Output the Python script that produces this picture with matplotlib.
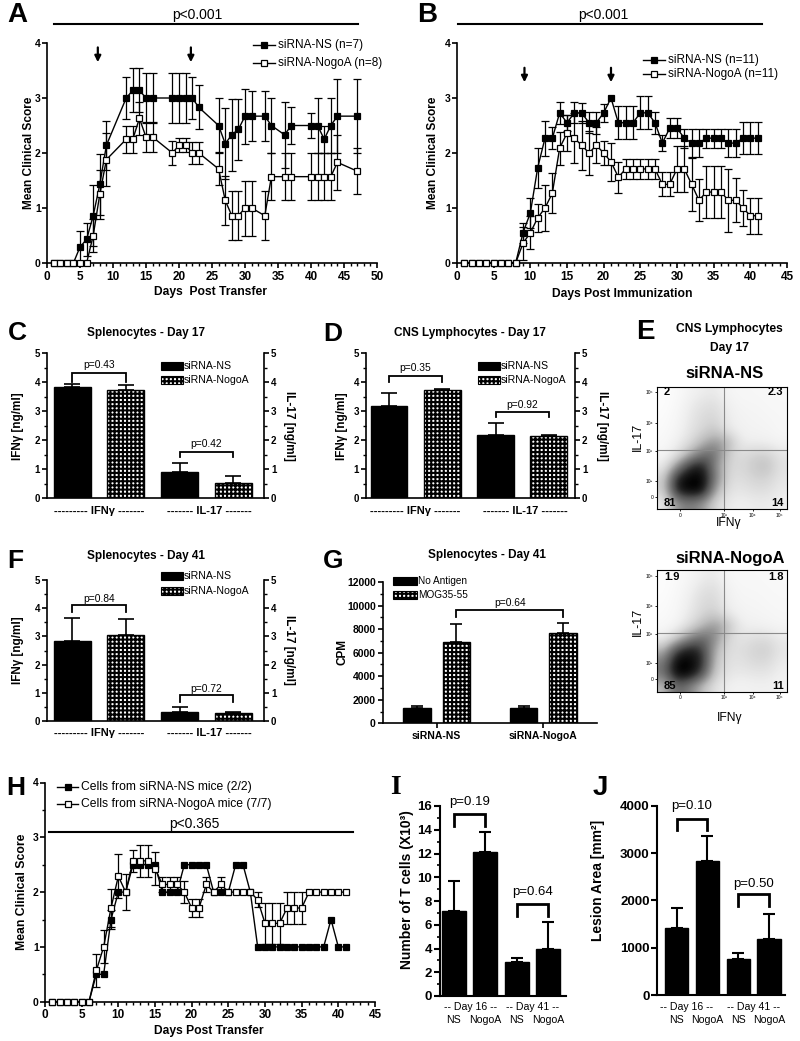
import matplotlib
matplotlib.use('Agg')
import matplotlib.pyplot as plt
import numpy as np
from matplotlib.lines import Line2D
from matplotlib.patches import Rectangle
from matplotlib.ticker import MultipleLocator

plt.rcParams['font.family'] = ['Liberation Sans', 'DejaVu Sans']
plt.rcParams['hatch.linewidth'] = 1.5
plt.rcParams['axes.linewidth'] = 1.2

# ---------------- data ----------------
# Panel A: passive transfer EAE
a_days = [1,2,3,4,5,6,7,8,9,12,13,14,15,16,19,20,21,22,23,26,27,28,29,30,31,33,34,36,37,40,41,42,43,44,47]
a_ns = [0,0,0,0,0.29,0.43,0.86,1.43,2.14,3.0,3.14,3.14,3.0,3.0,3.0,3.0,3.0,3.0,2.83,2.5,2.17,2.33,2.43,2.67,2.67,2.67,2.5,2.33,2.5,2.5,2.5,2.25,2.5,2.67,2.67]
a_ns_err = [0,0,0,0,0.3,0.3,0.55,0.55,0.45,0.38,0.4,0.4,0.46,0.46,0.45,0.45,0.45,0.38,0.4,0.5,0.65,0.65,0.55,0.5,0.45,0.45,0.5,0.6,0.33,0.22,0.5,0.25,0.5,0.67,0.67]
a_nogo = [0,0,0,0,0,0,0.5,1.25,1.88,2.25,2.25,2.63,2.29,2.29,2.0,2.14,2.14,2.0,2.0,1.71,1.14,0.86,0.86,1.0,1.0,0.86,1.57,1.57,1.57,1.57,1.57,1.57,1.57,1.83,1.67]
a_nogo_err = [0,0,0,0,0,0,0.3,0.45,0.48,0.25,0.25,0.3,0.28,0.28,0.22,0.13,0.13,0.2,0.2,0.3,0.45,0.45,0.45,0.5,0.5,0.45,0.43,0.43,0.43,0.43,0.43,0.43,0.43,0.5,0.42]
a_arrows = [7.7, 21.8]

# Panel B: active EAE
b_days = list(range(1, 42))
b_ns = [0,0,0,0,0,0,0,0,0.55,0.91,1.73,2.27,2.27,2.73,2.55,2.73,2.73,2.55,2.55,2.73,3.0,2.55,2.55,2.55,2.73,2.73,2.55,2.18,2.45,2.45,2.27,2.18,2.18,2.27,2.27,2.27,2.18,2.18,2.27,2.27,2.27]
b_ns_err = [0,0,0,0,0,0,0,0,0.18,0.27,0.37,0.32,0.2,0.2,0.15,0.19,0.18,0.19,0.2,0.17,0,0.3,0.3,0.3,0.3,0.3,0.2,0.14,0.18,0.18,0.17,0.25,0.25,0.17,0.17,0.17,0.25,0.25,0.29,0.29,0.29]
b_nogo = [0,0,0,0,0,0,0,0,0.36,0.55,0.82,1.0,1.27,2.09,2.36,2.27,2.14,2.0,2.14,2.0,1.84,1.56,1.71,1.71,1.71,1.71,1.71,1.43,1.43,1.71,1.71,1.43,1.14,1.29,1.29,1.29,1.14,1.14,1.0,0.86,0.86]
b_nogo_err = [0,0,0,0,0,0,0,0,0.3,0.3,0.25,0.42,0.36,0.3,0.33,0.45,0.45,0.4,0.33,0.22,0.35,0.28,0.18,0.18,0.18,0.18,0.18,0.22,0.22,0.42,0.42,0.48,0.38,0.47,0.47,0.47,0.57,0.4,0.33,0.33,0.33]
b_arrows = [9.2, 21.0]

# Panels C, D, F: cytokines [IFNg, IL-17]
c_ns = [3.85, 0.92];  c_ns_err = [0.08, 0.31]
c_nogo = [3.75, 0.54]; c_nogo_err = [0.14, 0.23]
d_ns = [3.2, 2.2];    d_ns_err = [0.42, 0.38]
d_nogo = [3.72, 2.15]; d_nogo_err = [0.04, 0.04]
f_ns = [2.85, 0.33];  f_ns_err = [0.8, 0.15]
f_nogo = [3.05, 0.27]; f_nogo_err = [0.57, 0.06]

# Panel G: proliferation
g_groups = ['siRNA-NS', 'siRNA-NogoA']
g_noag = [1300, 1300]; g_noag_err = [180, 180]
g_mog = [6900, 7700];  g_mog_err = [1500, 800]

# Panel E: flow cytometry density (rows top->bottom, cols left->right)
e_ns_density = [
    [0.02,0.04,0.10,0.14,0.16,0.08,0.07,0.07,0.06,0.05],
    [0.02,0.05,0.14,0.20,0.22,0.12,0.08,0.08,0.07,0.06],
    [0.03,0.07,0.16,0.24,0.26,0.14,0.10,0.09,0.08,0.07],
    [0.04,0.08,0.18,0.26,0.32,0.16,0.11,0.10,0.09,0.07],
    [0.05,0.12,0.22,0.38,0.50,0.40,0.14,0.13,0.12,0.09],
    [0.08,0.18,0.40,0.62,0.65,0.30,0.22,0.28,0.28,0.18],
    [0.15,0.50,0.85,0.92,0.55,0.26,0.25,0.32,0.36,0.20],
    [0.28,0.90,1.00,1.00,0.60,0.24,0.22,0.28,0.28,0.18],
    [0.28,0.92,1.00,1.00,0.45,0.20,0.18,0.22,0.22,0.15],
    [0.15,0.50,0.60,0.50,0.26,0.15,0.12,0.15,0.15,0.12]]
e_nogo_density = [
    [0.02,0.04,0.08,0.14,0.16,0.07,0.06,0.06,0.05,0.05],
    [0.02,0.05,0.11,0.20,0.22,0.10,0.07,0.07,0.06,0.05],
    [0.03,0.06,0.14,0.24,0.25,0.12,0.08,0.08,0.07,0.06],
    [0.04,0.07,0.16,0.26,0.30,0.15,0.10,0.09,0.08,0.07],
    [0.05,0.10,0.22,0.38,0.50,0.36,0.13,0.12,0.10,0.08],
    [0.12,0.28,0.52,0.66,0.55,0.26,0.18,0.22,0.22,0.15],
    [0.38,0.78,0.92,0.82,0.42,0.22,0.22,0.28,0.30,0.18],
    [0.58,1.00,1.00,0.88,0.36,0.20,0.20,0.25,0.25,0.15],
    [0.62,1.00,1.00,0.78,0.30,0.18,0.16,0.18,0.18,0.12],
    [0.36,0.68,0.58,0.36,0.20,0.12,0.10,0.12,0.12,0.10]]
e_ns_quads = ['2', '2.3', '81', '14']
e_nogo_quads = ['1.9', '1.8', '85', '11']

# Panel H: transfer of cells
h_days = list(range(1, 42))
h_ns = [0,0,0,0,0,0,0.5,0.5,1.5,2.0,2.0,2.5,2.5,2.5,2.5,2.0,2.0,2.0,2.5,2.5,2.5,2.5,2.0,2.0,2.0,2.5,2.5,2.0,1.0,1.0,1.0,1.0,1.0,1.0,1.0,1.0,1.0,1.0,1.5,1.0,1.0]
h_ns_err = [0,0,0,0,0,0,0,0,0.17,0,0.33,0,0,0,0,0,0,0,0,0,0,0,0,0,0,0,0,0,0,0,0,0,0,0,0,0,0,0,0,0,0]
h_nogo = [0,0,0,0,0,0,0.57,1.0,1.71,2.29,2.0,2.57,2.57,2.57,2.43,2.14,2.14,2.14,2.0,1.71,1.71,2.14,2.0,2.14,2.0,2.0,2.0,2.0,1.86,1.43,1.43,1.43,1.71,1.71,1.71,2.0,2.0,2.0,2.0,2.0,2.0]
h_nogo_err = [0,0,0,0,0,0,0.3,0.3,0.35,0.4,0,0.2,0.29,0.29,0.3,0.14,0.14,0.14,0.2,0.17,0.17,0.14,0,0.14,0,0,0,0,0.14,0.37,0.37,0.37,0.29,0.29,0.29,0,0,0,0,0,0]

# Panels I, J
ij_labels = ['NS', 'NogoA', 'NS', 'NogoA']
ij_days = ['-- Day 16 --', '-- Day 41 --']
i_vals = [7.2, 12.1, 2.9, 4.0];  i_err = [2.5, 1.7, 0.3, 2.2]
j_vals = [1420, 2830, 770, 1180]; j_err = [420, 520, 120, 540]

# ---------------- helpers ----------------
W, H = 800, 1041
fig = plt.figure(figsize=(W/100, H/100), dpi=100)

def axpx(l, t, r, b):
    return fig.add_axes([l/W, 1-b/H, (r-l)/W, (b-t)/H])

def ftext(x, y, s, **kw):
    kw.setdefault('ha', 'center'); kw.setdefault('va', 'center')
    return fig.text(x/W, 1-y/H, s, **kw)

def bold_ticks(ax):
    for lab in ax.get_xticklabels() + ax.get_yticklabels():
        lab.set_fontweight('bold')

def leg_line(x0, x1, y, face, label, fs):
    fig.add_artist(Line2D([x0/W, x1/W], [1-y/H, 1-y/H], color='k', lw=1.0, transform=fig.transFigure))
    fig.add_artist(Line2D([(x0+x1)/2/W], [1-y/H], marker='s', ms=4.3, mfc=face, mec='k', mew=0.9,
                          transform=fig.transFigure))
    ftext(x1+3, y, label, fontsize=fs, ha='left')

def leg_patch(x0, x1, y, hatch, label, fs, h=8):
    if hatch:
        r = Rectangle((x0/W, 1-(y+h/2)/H), (x1-x0)/W, h/H, transform=fig.transFigure,
                      facecolor='white', edgecolor='k', hatch='++++', lw=0.8)
    else:
        r = Rectangle((x0/W, 1-(y+h/2)/H), (x1-x0)/W, h/H, transform=fig.transFigure,
                      facecolor='k', edgecolor='k', lw=0.8)
    fig.add_artist(r)
    ftext(x1+1, y, label, fontsize=fs, ha='left')

def bracket(ax, x0, x1, ytop, yleg, ytext, txt, fs, lw=1.3):
    ax.plot([x0, x0, x1, x1], [yleg, ytop, ytop, yleg], color='k', lw=lw, clip_on=False,
            solid_joinstyle='miter')
    ax.text((x0+x1)/2, ytext, txt, ha='center', va='center', fontsize=fs, clip_on=False)

def clinical(ax, days, ns, ns_err, nogo, nogo_err, xmax):
    for vals, errs, face in [(ns, ns_err, 'k'), (nogo, nogo_err, 'white')]:
        d = np.array(days); v = np.array(vals); e = np.array(errs)
        m = e > 0
        ax.errorbar(d[m], v[m], yerr=e[m], fmt='none', ecolor='k', elinewidth=0.9,
                    capsize=3.0, capthick=0.9, zorder=2)
        ax.plot(d, v, '-', color='k', lw=1.0, marker='s', ms=4.3, mfc=face, mec='k',
                mew=0.9, clip_on=False, zorder=3)
    ax.set_xlim(0, xmax); ax.set_ylim(0, 4)
    ax.spines[['top', 'right']].set_visible(False)
    ax.xaxis.set_major_locator(MultipleLocator(5))
    ax.xaxis.set_minor_locator(MultipleLocator(1))
    ax.set_yticks([0, 1, 2, 3, 4])
    ax.tick_params(axis='both', which='major', direction='out', length=3.5, width=1.2, pad=2)
    ax.tick_params(axis='y', which='major', pad=1)
    ax.tick_params(axis='x', which='major', labelsize=8.5)
    ax.tick_params(axis='y', which='major', labelsize=7.5)
    ax.tick_params(axis='x', which='minor', direction='out', length=2, width=1.0)
    bold_ticks(ax)

def cyto(ax, ns, ns_err, nogo, nogo_err, xlim):
    pos_ns = [0, 2]; pos_nogo = [1, 3]
    ax.bar(pos_ns, ns, width=0.69, color='k', edgecolor='k', lw=1)
    ax.bar(pos_nogo, nogo, width=0.69, facecolor='white', edgecolor='k', hatch='++++', lw=1)
    ax.errorbar(pos_ns, ns, yerr=[[0, 0], ns_err], fmt='none', ecolor='k', elinewidth=1.2,
                capsize=6, capthick=1.2)
    ax.errorbar(pos_nogo, nogo, yerr=[[0, 0], nogo_err], fmt='none', ecolor='k', elinewidth=1.2,
                capsize=6, capthick=1.2)
    ax.set_xlim(*xlim); ax.set_ylim(0, 5)
    ax.set_xticks([])
    ax.spines[['top', 'right']].set_visible(False)
    ax.yaxis.set_minor_locator(MultipleLocator(0.5))
    ax.tick_params(axis='y', which='major', direction='out', length=3.5, width=1.2, labelsize=7, pad=1.5)
    ax.tick_params(axis='y', which='minor', direction='out', length=2, width=1.0)
    bold_ticks(ax)
    ax2 = ax.twinx()
    ax2.set_ylim(0, 5)
    ax2.spines[['top', 'left', 'bottom']].set_visible(False)
    ax2.yaxis.set_minor_locator(MultipleLocator(0.5))
    ax2.tick_params(axis='y', which='major', direction='out', length=3.5, width=1.2, labelsize=7, pad=1.5)
    ax2.tick_params(axis='y', which='minor', direction='out', length=2, width=1.0)
    bold_ticks(ax2)
    return ax2

def cyto_xlabels(ax, yfrac):
    tr = ax.get_xaxis_transform()
    ax.text(0.5, yfrac, '--------- IFNγ -------', transform=tr, ha='center', va='center',
            fontsize=8, fontweight='bold')
    ax.text(2.55, yfrac, '------- IL-17 -------', transform=tr, ha='center', va='center',
            fontsize=8, fontweight='bold')

# ---------------- Panel A ----------------
axA = axpx(47, 43, 377, 263)
clinical(axA, a_days, a_ns, a_ns_err, a_nogo, a_nogo_err, 50)
for d in a_arrows:
    axA.annotate('', xy=(d, 3.6), xytext=(d, 3.97),
                 arrowprops=dict(arrowstyle='-|>', color='k', lw=1.6, mutation_scale=9), annotation_clip=False)
axA.plot([1.06, 47.1], [4.345, 4.345], color='k', lw=1.5, clip_on=False)
ftext(197, 15, 'p<0.001', fontsize=10)
ftext(29, 153, 'Mean Clinical Score', rotation=90, fontsize=8.6, fontweight='bold')
ftext(211, 292, 'Days  Post Transfer', fontsize=8.7, fontweight='bold')
leg_line(253, 275, 45, 'k', 'siRNA-NS (n=7)', 8.5)
leg_line(253, 275, 63.3, 'white', 'siRNA-NogoA (n=8)', 8.5)
ftext(17, 15, 'A', fontsize=20, fontweight='bold')

# ---------------- Panel B ----------------
axB = axpx(457, 43, 787, 263)
clinical(axB, b_days, b_ns, b_ns_err, b_nogo, b_nogo_err, 45)
for d in b_arrows:
    axB.annotate('', xy=(d, 3.236), xytext=(d, 3.6),
                 arrowprops=dict(arrowstyle='-|>', color='k', lw=1.6, mutation_scale=9), annotation_clip=False)
axB.plot([0.14, 41.6], [4.35, 4.35], color='k', lw=1.5, clip_on=False)
ftext(603, 15, 'p<0.001', fontsize=10)
ftext(433, 153, 'Mean Clinical Score', rotation=90, fontsize=8.6, fontweight='bold')
ftext(622, 294, 'Days Post Immunization', fontsize=8.7, fontweight='bold')
leg_line(643, 665, 60, 'k', 'siRNA-NS (n=11)', 8.5)
leg_line(643, 665, 74, 'white', 'siRNA-NogoA (n=11)', 8.5)
ftext(427, 15, 'B', fontsize=20, fontweight='bold')

# ---------------- Panel C ----------------
axC = axpx(47, 353.3, 264, 498.3)
cyto(axC, c_ns, c_ns_err, c_nogo, c_nogo_err, (-0.47, 3.57))
bracket(axC, 0, 1, 4.31, 4.02, 4.6, 'p=0.43', 7.4)
bracket(axC, 2, 3, 1.61, 1.43, 1.87, 'p=0.42', 7.4)
cyto_xlabels(axC, -0.088)
ftext(146, 333, 'Splenocytes - Day 17', fontsize=8.5, fontweight='bold')
ftext(18, 426, 'IFNγ [ng/ml]', rotation=90, fontsize=8.5, fontweight='bold')
ftext(289, 426, 'IL-17 [ng/ml]', rotation=270, fontsize=8.5, fontweight='bold')
leg_patch(161, 183, 365.7, False, 'siRNA-NS', 7.6)
leg_patch(161, 183, 380, True, 'siRNA-NogoA', 7.6)
ftext(17, 333, 'C', fontsize=19, fontweight='bold')

# ---------------- Panel D ----------------
axD = axpx(366, 353.3, 575, 498.3)
cyto(axD, d_ns, d_ns_err, d_nogo, d_nogo_err, (-0.43, 3.49))
bracket(axD, 0, 1, 4.22, 4.02, 4.48, 'p=0.35', 7.4)
bracket(axD, 2, 3, 2.99, 2.81, 3.22, 'p=0.92', 7.4)
cyto_xlabels(axD, -0.088)
ftext(470, 333, 'CNS Lymphocytes - Day 17', fontsize=8.5, fontweight='bold')
ftext(342, 426, 'IFNγ [ng/ml]', rotation=90, fontsize=8.5, fontweight='bold')
ftext(602, 426, 'IL-17 [ng/ml]', rotation=270, fontsize=8.5, fontweight='bold')
leg_patch(478, 500, 365.7, False, 'siRNA-NS', 7.6)
leg_patch(478, 500, 380, True, 'siRNA-NogoA', 7.6)
ftext(333, 334, 'D', fontsize=19, fontweight='bold')

# ---------------- Panel F ----------------
axF = axpx(47, 580, 264, 721)
cyto(axF, f_ns, f_ns_err, f_nogo, f_nogo_err, (-0.47, 3.57))
bracket(axF, 0, 1, 4.11, 3.85, 4.32, 'p=0.84', 7.4)
bracket(axF, 2, 3, 0.92, 0.68, 1.12, 'p=0.72', 7.4)
cyto_xlabels(axF, -0.083)
ftext(146, 556, 'Splenocytes - Day 41', fontsize=8.5, fontweight='bold')
ftext(18, 650, 'IFNγ [ng/ml]', rotation=90, fontsize=8.5, fontweight='bold')
ftext(289, 650, 'IL-17 [ng/ml]', rotation=270, fontsize=8.5, fontweight='bold')
leg_patch(161, 183, 575.7, False, 'siRNA-NS', 7.6)
leg_patch(161, 183, 590.7, True, 'siRNA-NogoA', 7.6)
ftext(15, 561, 'F', fontsize=19, fontweight='bold')

# ---------------- Panel G ----------------
axG = axpx(383.3, 582, 596.7, 723.3)
gx = np.arange(len(g_groups))
axG.bar(gx - 0.185, g_noag, width=0.26, color='k', edgecolor='k', lw=1)
axG.bar(gx + 0.185, g_mog, width=0.26, facecolor='white', edgecolor='k', hatch='++++', lw=1)
axG.errorbar(gx - 0.185, g_noag, yerr=[[0, 0], g_noag_err], fmt='none', ecolor='k', elinewidth=1.2, capsize=4, capthick=1.2)
axG.errorbar(gx + 0.185, g_mog, yerr=[[0, 0], g_mog_err], fmt='none', ecolor='k', elinewidth=1.2, capsize=4, capthick=1.2)
axG.set_xlim(-0.5, 1.5); axG.set_ylim(0, 12000)
axG.set_xticks(gx); axG.set_xticklabels(g_groups)
axG.set_yticks([0, 2000, 4000, 6000, 8000, 10000, 12000])
axG.yaxis.set_minor_locator(MultipleLocator(1000))
axG.spines[['top', 'right']].set_visible(False)
axG.tick_params(axis='both', which='major', direction='out', length=3.5, width=1.2, labelsize=7.5, pad=2)
axG.tick_params(axis='y', which='minor', direction='out', length=2, width=1.0)
bold_ticks(axG)
bracket(axG, 0.185, 1.185, 9580, 9010, 10250, 'p=0.64', 7.4)
ftext(487, 555, 'Splenocytes - Day 41', fontsize=8.5, fontweight='bold')
ftext(342, 652, 'CPM', rotation=90, fontsize=8.5, fontweight='bold')
leg_patch(393, 417, 581, False, 'No Antigen', 7.2)
leg_patch(393, 417, 595, True, 'MOG35-55', 7.2)
ftext(333, 561, 'G', fontsize=19, fontweight='bold')

# ---------------- Panel E ----------------
def flow(ax, dens, quads, ynum_top, ynum_bot):
    ax.imshow(np.array(dens), cmap='Greys', vmin=0, vmax=1, extent=[0, 1, 0, 1], origin='upper',
              interpolation='bicubic', aspect='auto')
    ax.axvline(0.52, color='#8a8a8a', lw=0.8)
    ax.axhline(0.48, color='#8a8a8a', lw=0.8)
    ax.set_xlim(0, 1); ax.set_ylim(0, 1)
    for s in ax.spines.values():
        s.set_linewidth(0.8)
    ax.set_xticks([0.179, 0.52, 0.74, 0.945])
    ax.set_xticklabels(['0', '10³', '10⁴', '10⁵'])
    ax.set_yticks([0.103, 0.233, 0.478, 0.706, 0.954])
    ax.set_yticklabels(['0', '10²', '10³', '10⁴', '10⁵'])
    ax.tick_params(axis='both', direction='out', length=1.5, width=0.6, labelsize=3.5, pad=1)
    tr = ax.transAxes
    ax.text(0.056, ynum_top, quads[0], transform=tr, ha='left', va='center', fontsize=8, fontweight='bold')
    ax.text(0.975, ynum_top, quads[1], transform=tr, ha='right', va='center', fontsize=8, fontweight='bold')
    ax.text(0.056, ynum_bot, quads[2], transform=tr, ha='left', va='center', fontsize=8, fontweight='bold')
    ax.text(0.975, ynum_bot, quads[3], transform=tr, ha='right', va='center', fontsize=8, fontweight='bold')

axE1 = axpx(656.7, 386.7, 786.7, 509.3)
flow(axE1, e_ns_density, e_ns_quads, 0.954, 0.055)
axE2 = axpx(656.7, 570, 786.7, 691.7)
flow(axE2, e_nogo_density, e_nogo_quads, 0.945, 0.047)
ftext(645, 332, 'E', fontsize=20, fontweight='bold')
ftext(729, 329, 'CNS Lymphocytes', fontsize=8.7, fontweight='bold')
ftext(729, 348, 'Day 17', fontsize=8.7, fontweight='bold')
ftext(725, 373, 'siRNA-NS', fontsize=12, fontweight='bold')
ftext(730, 558, 'siRNA-NogoA', fontsize=12, fontweight='bold')
ftext(638, 437, 'IL-17', rotation=90, fontsize=9)
ftext(638, 622, 'IL-17', rotation=90, fontsize=9)
ftext(729, 523, 'IFNγ', fontsize=8.7)
ftext(730, 718, 'IFNγ', fontsize=8.7)

# ---------------- Panel H ----------------
axH = axpx(45, 782.5, 375, 1001.7)
clinical(axH, h_days, h_ns, h_ns_err, h_nogo, h_nogo_err, 45)
axH.yaxis.set_minor_locator(MultipleLocator(0.5))
axH.tick_params(axis='y', which='minor', direction='out', length=2, width=1.0)
axH.plot([0.55, 42.0], [3.09, 3.09], color='k', lw=1.5, clip_on=False)
ftext(194, 824, 'p<0.365', fontsize=10)
ftext(21.7, 892, 'Mean Clinical Score', rotation=90, fontsize=8.8, fontweight='bold')
ftext(209, 1031, 'Days Post Transfer', fontsize=8.7, fontweight='bold')
leg_line(57, 78, 786.7, 'k', 'Cells from siRNA-NS mice (2/2)', 8.7)
leg_line(57, 78, 804, 'white', 'Cells from siRNA-NogoA mice (7/7)', 8.7)
ftext(16, 788, 'H', fontsize=19, fontweight='bold')

# ---------------- Panels I & J ----------------
def count_bars(ax, vals, errs, xlim, ylim, yticks, minor, capsize):
    x = np.arange(len(vals))
    ax.bar(x, vals, width=0.76, color='k', edgecolor='k', lw=1)
    ax.errorbar(x, vals, yerr=[np.zeros(len(vals)), errs], fmt='none', ecolor='k', elinewidth=1.5,
                capsize=capsize, capthick=1.5)
    ax.set_xlim(*xlim); ax.set_ylim(*ylim)
    ax.set_xticks([])
    ax.set_yticks(yticks)
    if minor:
        ax.yaxis.set_minor_locator(MultipleLocator(minor))
    ax.spines[['top', 'right']].set_visible(False)
    ax.spines[['left', 'bottom']].set_linewidth(1.5)
    ax.tick_params(axis='y', which='major', direction='out', length=4, width=1.5, labelsize=9.5, pad=1.5)
    ax.tick_params(axis='y', which='minor', direction='out', length=2.5, width=1.2)
    bold_ticks(ax)
    tr = ax.get_xaxis_transform()
    return x, tr

axI = axpx(440, 806, 566, 996)
xi, tri = count_bars(axI, i_vals, i_err, (-0.435, 3.565), (0, 16), [0, 2, 4, 6, 8, 10, 12, 14, 16], 1, 4.5)
bracket(axI, 0, 1, 15.3, 14.3, 16.3, 'p=0.19', 9.5, lw=2.0)
bracket(axI, 2, 3, 7.75, 6.7, 8.8, 'p=0.64', 9.5, lw=2.0)
axI.text(0.55, -0.057, ij_days[0], transform=tri, ha='center', va='center', fontsize=7.6)
axI.text(2.5, -0.057, ij_days[1], transform=tri, ha='center', va='center', fontsize=7.6)
for k in range(4):
    axI.text(xi[k], -0.127, ij_labels[k], transform=tri, ha='center', va='center', fontsize=7.6)
ftext(407, 890, 'Number of T cells (X10³)', rotation=90, fontsize=10, fontweight='bold')
ftext(395, 788, 'I', fontsize=20, fontweight='bold', family=['Liberation Serif', 'DejaVu Serif'])

axJ = axpx(657.3, 805.7, 785, 995)
xj, trj = count_bars(axJ, j_vals, j_err, (-0.63, 3.52), (0, 4000), [0, 1000, 2000, 3000, 4000], None, 4.5)
bracket(axJ, 0, 1, 3715, 3490, 3990, 'p=0.10', 9.5, lw=2.0)
bracket(axJ, 2, 3, 2130, 1880, 2350, 'p=0.50', 9.5, lw=2.0)
axJ.text(0.33, -0.062, ij_days[0], transform=trj, ha='center', va='center', fontsize=7.6)
axJ.text(2.5, -0.062, ij_days[1], transform=trj, ha='center', va='center', fontsize=7.6)
for k in range(4):
    axJ.text(xj[k], -0.132, ij_labels[k], transform=trj, ha='center', va='center', fontsize=7.6)
ftext(598, 880, 'Lesion Area [mm²]', rotation=90, fontsize=10, fontweight='bold')
ftext(600, 788, 'J', fontsize=20, fontweight='bold')

fig.savefig('out.png', dpi=100)
